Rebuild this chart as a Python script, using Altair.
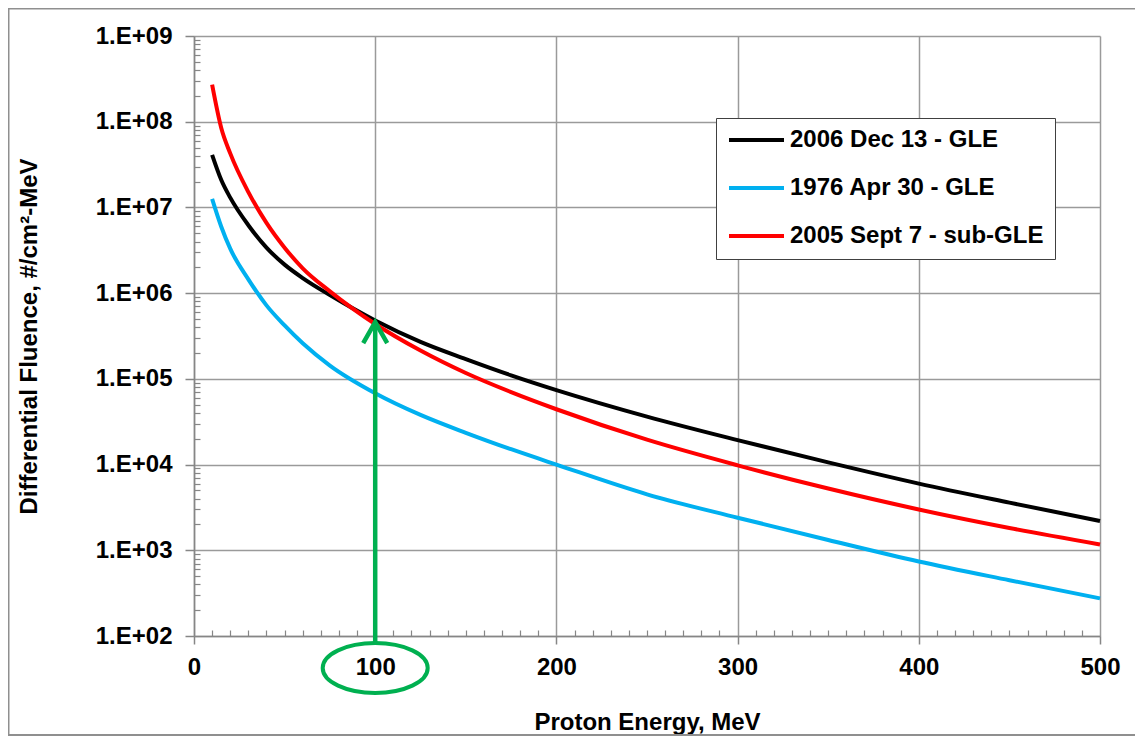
import altair as alt
import pandas as pd

# ---------------- data ----------------
energy = [10, 15, 20, 30, 40, 50, 60, 75, 100, 125, 150, 175, 200, 250, 300, 350, 400, 450, 500]
flu_2006 = [4.1e7, 2.1e7, 1.3e7, 6.2e6, 3.4e6, 2.15e6, 1.5e6, 9.5e5, 4.8e5, 2.7e5, 1.7e5, 1.1e5,
            7.4e4, 3.63e4, 1.93e4, 1.06e4, 6.0e3, 3.6e3, 2.2e3]
flu_1976 = [1.26e7, 6.0e6, 3.3e6, 1.45e6, 7.2e5, 4.2e5, 2.6e5, 1.43e5, 6.8e4, 3.8e4, 2.35e4, 1.51e4,
            1.0e4, 4.5e3, 2.4e3, 1.32e3, 7.4e2, 4.47e2, 2.75e2]
flu_2005 = [2.7e8, 8.5e7, 4.27e7, 1.51e7, 6.6e6, 3.39e6, 1.95e6, 1.05e6, 4.37e5, 2.14e5, 1.17e5, 7.0e4,
            4.42e4, 1.95e4, 9.8e3, 5.25e3, 2.99e3, 1.82e3, 1.17e3]

series_names = ["2006 Dec 13 - GLE", "1976 Apr 30 - GLE", "2005 Sept 7 - sub-GLE"]
series_colors = ["#000000", "#00B0F0", "#FF0000"]

x_ticks = [0, 100, 200, 300, 400, 500]
x_minor = [v for v in range(10, 500, 10) if v % 100 != 0]
y_ticks = [1e2, 1e3, 1e4, 1e5, 1e6, 1e7, 1e8, 1e9]
y_minor = [m * 10 ** k for k in range(2, 9) for m in range(2, 10)]

arrow_energy = [100]
arrow_top = [4.6e5]
arrow_bottom = [1e2]

# ---------------- tables ----------------
rows = []
for name, vals in zip(series_names, [flu_2006, flu_1976, flu_2005]):
    for e, v in zip(energy, vals):
        rows.append({"series": name, "energy": e, "fluence": v})
df = pd.DataFrame(rows)
arrow_df = pd.DataFrame({"energy": arrow_energy, "top": arrow_top, "bottom": arrow_bottom})
one = pd.DataFrame({"k": [0]})

FONT = "Liberation Sans"
GRID = "#9a9a9a"
AXC = "#868686"
GREEN = "#00B050"

xscale = alt.Scale(domain=[0, 500], nice=False, zero=False)
yscale = alt.Scale(type="log", domain=[1e2, 1e9], nice=False)

x_major = alt.Axis(
    orient="bottom", values=x_ticks, grid=True, gridColor=GRID, gridWidth=1.5,
    domainColor=AXC, domainWidth=1.5, tickColor=AXC, tickWidth=1.5, tickSize=8,
    labelFont=FONT, labelFontSize=24, labelFontWeight="bold", labelColor="#000000",
    labelPadding=11, labelFlush=False, labelOverlap=False,
    title="Proton Energy, MeV", titleFont=FONT, titleFontSize=24, titleFontWeight="bold",
    titleColor="#000000", titleX=453, titleY=93, titleBaseline="alphabetic", titleAlign="center",
)
y_major = alt.Axis(
    orient="left", values=y_ticks, grid=True, gridColor=GRID, gridWidth=1.5,
    domainColor=AXC, domainWidth=1.5, tickColor=AXC, tickWidth=1.5, tickSize=9,
    labelFont=FONT, labelFontSize=24, labelFontWeight="bold", labelColor="#000000",
    labelPadding=13, labelFlush=False, labelOverlap=False,
    labelExpr="'1.E+0' + format(log(datum.value)/LN10, '.0f')",
    title="Differential Fluence, #/cm²-MeV", titleFont=FONT, titleFontSize=24,
    titleFontWeight="bold", titleColor="#000000", titleX=-165, titleY=300,
    titleAngle=270, titleBaseline="middle", titleAlign="center",
)
x_minor_axis = alt.Axis(
    orient="bottom", values=x_minor, offset=-6, tickSize=6, tickColor=AXC, tickWidth=1.2,
    labels=False, domain=False, grid=False, title=None,
)
y_minor_axis = alt.Axis(
    orient="left", values=y_minor, offset=-6, tickSize=6, tickColor=AXC, tickWidth=1.2,
    labels=False, domain=False, grid=False, title=None,
)

frame = alt.Chart(one).mark_rect(fillOpacity=0, stroke="#8f8f8f", strokeWidth=2).encode(
    x=alt.value(-185.5), x2=alt.value(960), y=alt.value(-27.5), y2=alt.value(699)
)

lines = alt.Chart(df).mark_line(strokeWidth=4, interpolate="monotone").encode(
    x=alt.X("energy:Q", scale=xscale, axis=x_major),
    y=alt.Y("fluence:Q", scale=yscale, axis=y_major),
    color=alt.Color(
        "series:N",
        scale=alt.Scale(domain=series_names, range=series_colors),
        legend=alt.Legend(
            orient="none", legendX=522, legendY=82, title=None,
            symbolType="stroke", symbolSize=3025, symbolStrokeWidth=4,
            labelFont=FONT, labelFontSize=24, labelFontWeight="bold", labelColor="#000000",
            labelOffset=4, labelLimit=500, clipHeight=22, rowPadding=24, padding=11,
            strokeColor="#404040", fillColor="#ffffff",
        ),
    ),
    detail="series:N",
)

arrow_shaft = alt.Chart(arrow_df).mark_rule(color=GREEN, strokeWidth=4.5).encode(
    x=alt.X("energy:Q", scale=xscale, axis=x_minor_axis),
    y=alt.Y("top:Q", scale=yscale, axis=y_minor_axis),
    y2=alt.value(606),
)

arrow_head = alt.Chart(arrow_df).mark_point(
    shape="M-1,1.75L0,0L1,1.75", size=576, filled=False, stroke=GREEN, strokeWidth=4.5,
    strokeJoin="miter", opacity=1,
).encode(
    x=alt.X("energy:Q", scale=xscale, axis=None),
    y=alt.Y("top:Q", scale=yscale, axis=None),
)

ellipse = alt.Chart(arrow_df).mark_point(
    shape="M-1,0A1,0.476,0,1,1,1,0A1,0.476,0,1,1,-1,0Z", size=11025, filled=False,
    stroke=GREEN, strokeWidth=4, opacity=1, yOffset=32,
).encode(
    x=alt.X("energy:Q", scale=xscale, axis=None),
    y=alt.Y("bottom:Q", scale=yscale, axis=None),
)

chart = (
    alt.layer(frame, lines, arrow_shaft, arrow_head, ellipse)
    .resolve_axis(x="independent", y="independent")
    .properties(
        width=906, height=600,
        padding={"left": 186, "top": 28, "right": 35, "bottom": 100},
        autosize=alt.AutoSizeParams(type="none"),
        background="#ffffff",
    )
    .configure_view(strokeWidth=0)
)

chart.save("out.html", embed_options={"renderer": "svg", "actions": False})
